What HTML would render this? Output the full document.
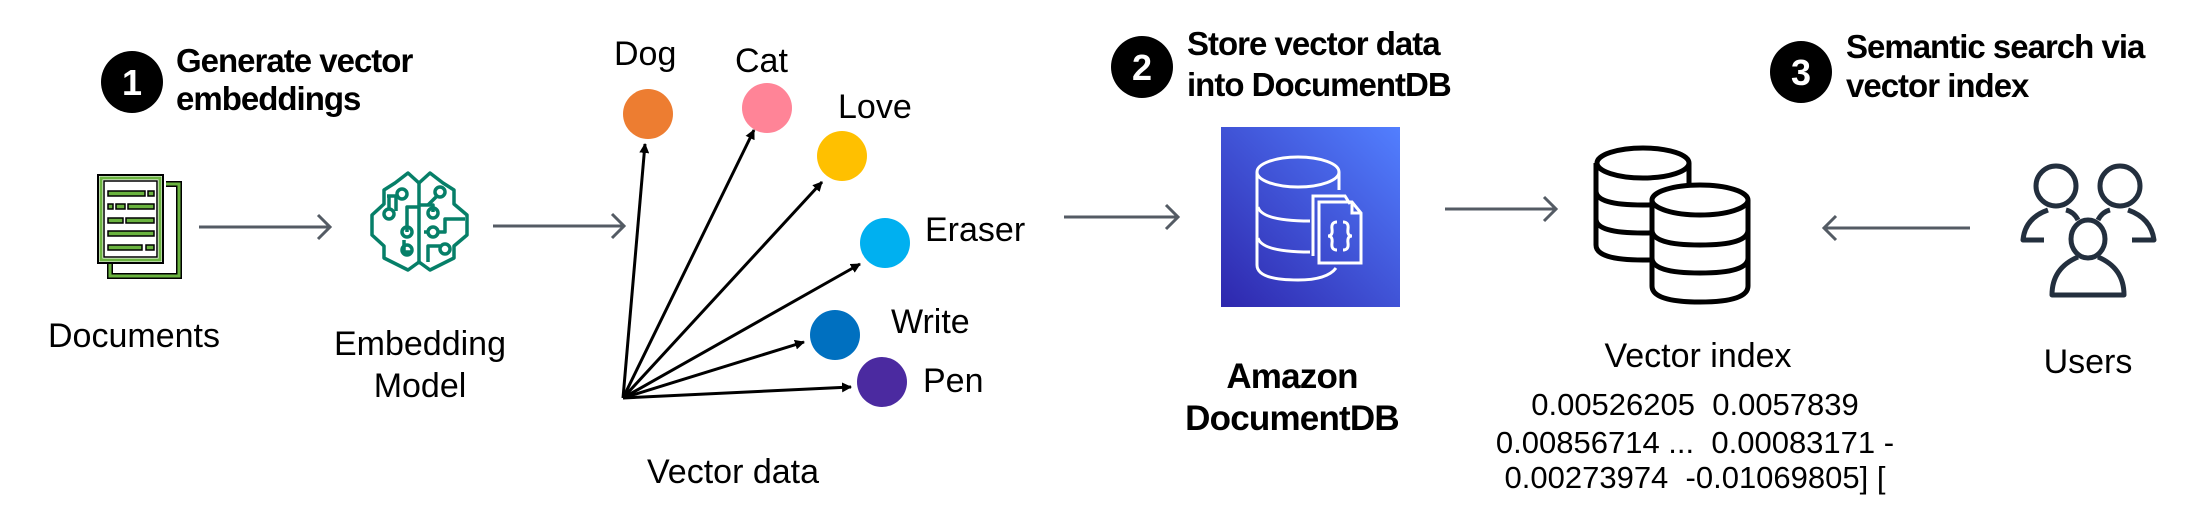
<!DOCTYPE html>
<html><head><meta charset="utf-8"><style>
html,body{margin:0;padding:0;background:#fff;}
svg{display:block;}
text{font-family:"Liberation Sans",sans-serif;}
.b{font-weight:bold;font-size:33px;letter-spacing:-1px;}
.l{font-size:34px;}
.n{font-size:31px;}
</style></head><body>
<svg width="2190" height="520" viewBox="0 0 2190 520" xmlns="http://www.w3.org/2000/svg">
<defs>
<marker id="ah" markerWidth="10" markerHeight="10" refX="9" refY="5" orient="auto" markerUnits="userSpaceOnUse" viewBox="0 0 10 10">
<path d="M0,0 L10,5 L0,10 z" fill="#000"/></marker>
<linearGradient id="g" x1="0" y1="1" x2="1" y2="0">
<stop offset="0" stop-color="#2e27ad"/><stop offset="1" stop-color="#527fff"/></linearGradient>
</defs>

<circle cx="132" cy="82" r="31" fill="#000"/>
<text x="132" y="95" text-anchor="middle" fill="#fff" font-weight="bold" font-size="36">1</text>
<text class="b" x="176" y="72">Generate vector</text>
<text class="b" x="176" y="110">embeddings</text>

<circle cx="1142" cy="67" r="31" fill="#000"/>
<text x="1142" y="80" text-anchor="middle" fill="#fff" font-weight="bold" font-size="36">2</text>
<text class="b" x="1187" y="55">Store vector data</text>
<text class="b" x="1187" y="96">into DocumentDB</text>

<circle cx="1801" cy="72" r="31" fill="#000"/>
<text x="1801" y="85" text-anchor="middle" fill="#fff" font-weight="bold" font-size="36">3</text>
<text class="b" x="1846" y="58">Semantic search via</text>
<text class="b" x="1846" y="97">vector index</text>

<g>
<path d="M110,264 V276 H179 V184 H166" fill="none" stroke="#000" stroke-width="6"/>
<path d="M110,264 V276 H179 V184 H166" fill="none" stroke="#6ab33f" stroke-width="3"/>
<rect x="98" y="175" width="65" height="88" fill="#fff" stroke="#000" stroke-width="2"/>
<rect x="101" y="178" width="59" height="82" fill="#fff" stroke="#6ab33f" stroke-width="3"/>
<rect x="104" y="181" width="53" height="76" fill="#fff" stroke="#000" stroke-width="1.5"/>
<g fill="#6ab33f" stroke="#000" stroke-width="1.5">
<rect x="108" y="191" width="37" height="5"/><rect x="148" y="191" width="6" height="5"/>
<rect x="108" y="204" width="5" height="5"/><rect x="116" y="204" width="9" height="5"/><rect x="128" y="204" width="26" height="5"/>
<rect x="108" y="218" width="15" height="5"/><rect x="126" y="218" width="28" height="5"/>
<rect x="108" y="231" width="46" height="5"/>
<rect x="108" y="245" width="34" height="5"/><rect x="146" y="245" width="8" height="5"/>
</g>
</g>
<text class="l" x="48" y="347">Documents</text>

<g stroke="#545b64" stroke-width="3" fill="none">
<path d="M199,227 H329 M318,215 L330,227 L318,239"/>
<path d="M493,226 H623 M612,214 L624,226 L612,238"/>
<path d="M1064,217 H1177 M1166,205 L1178,217 L1166,229"/>
<path d="M1445,209 H1555 M1544,197 L1556,209 L1544,221"/>
<path d="M1970,228 H1825 M1836,216 L1824,228 L1836,240"/>
</g>

<g fill="none" stroke="#067f68" stroke-width="3.5" stroke-linejoin="round">
<path d="M419,183 L408,173 L395,183 L384,190 V204 L372,215 V235 L384,246 V258 L408,270 L419,262 L430,270 L454,258 V246 L467,235 V215 L454,204 V190 L443,183 L430,173 Z"/>
<path d="M419,183 V262"/>
<path d="M387,196 H396 V211"/><circle cx="402" cy="194" r="5"/>
<circle cx="389" cy="214" r="5"/><path d="M389,209 V196"/>
<path d="M419,207 H407 V232"/><circle cx="407" cy="232" r="5"/>
<path d="M404,240 V252 H412"/><circle cx="407" cy="250" r="5"/>
<path d="M419,205 H433 V212"/><circle cx="433" cy="213" r="5"/>
<circle cx="440" cy="192" r="5"/><path d="M437,196 L428,205"/>
<path d="M424,232 H429"/><circle cx="433" cy="232" r="5"/>
<path d="M438,232 H445 V219 H465"/>
<path d="M428,262 V246 H440"/><circle cx="445" cy="249" r="5"/>
</g>
<text class="l" x="420" y="355" text-anchor="middle">Embedding</text>
<text class="l" x="420" y="397" text-anchor="middle">Model</text>

<g stroke="#000" stroke-width="3" marker-end="url(#ah)">
<line x1="623" y1="398" x2="645" y2="144"/>
<line x1="623" y1="398" x2="754" y2="130"/>
<line x1="623" y1="398" x2="822" y2="182"/>
<line x1="623" y1="398" x2="860" y2="264"/>
<line x1="623" y1="398" x2="804" y2="342"/>
<line x1="623" y1="398" x2="851" y2="387"/>
</g>
<circle cx="648" cy="114" r="25" fill="#ed7d31"/>
<circle cx="767" cy="108" r="25" fill="#ff8497"/>
<circle cx="842" cy="156" r="25" fill="#ffc000"/>
<circle cx="885" cy="243" r="25" fill="#00b0f0"/>
<circle cx="835" cy="335" r="25" fill="#0070c0"/>
<circle cx="882" cy="382" r="25" fill="#4b2aa0"/>
<text class="l" x="614" y="65">Dog</text>
<text class="l" x="735" y="72">Cat</text>
<text class="l" x="838" y="118">Love</text>
<text class="l" x="925" y="241">Eraser</text>
<text class="l" x="891" y="333">Write</text>
<text class="l" x="923" y="392">Pen</text>
<text class="l" x="647" y="483">Vector data</text>

<rect x="1221" y="127" width="179" height="180" fill="url(#g)"/>
<g fill="none" stroke="#fff" stroke-width="3">
<ellipse cx="1298" cy="172" rx="41" ry="15"/>
<path d="M1257,172 V265 Q1257,280 1298,280 Q1327,280 1336,268"/>
<path d="M1339,172 V190"/>
<path d="M1258,207 Q1262,221 1310,221"/>
<path d="M1258,238 Q1262,252 1310,252"/>
<path d="M1313,256 V196 H1345 L1350,204"/>
<path d="M1319,263 V202 H1352 L1361,213 V263 Z"/>
<path d="M1352,202 V213 H1361"/>
<path d="M1337,222 Q1331,222 1332,229 Q1333,236 1328,236 Q1333,236 1332,243 Q1331,250 1337,250"/>
<path d="M1343,222 Q1349,222 1348,229 Q1347,236 1352,236 Q1347,236 1348,243 Q1349,250 1343,250"/>
</g>
<text x="1292" y="388" text-anchor="middle" font-weight="bold" font-size="35" letter-spacing="-0.8">Amazon</text>
<text x="1292" y="430" text-anchor="middle" font-weight="bold" font-size="35" letter-spacing="-0.8">DocumentDB</text>

<g fill="#fff" stroke="#000" stroke-width="5">
<path d="M1596,163 V245 Q1596,260 1643,260 Q1689,260 1689,245 V163"/>
<path d="M1596,191 Q1596,205 1643,205 Q1689,205 1689,191"/>
<path d="M1596,219 Q1596,233 1643,233 Q1689,233 1689,219"/>
<ellipse cx="1643" cy="163" rx="46" ry="15"/>
<path d="M1652,200 V286 Q1652,302 1700,302 Q1748,302 1748,286 V200"/>
<path d="M1652,230 Q1652,245 1700,245 Q1748,245 1748,230"/>
<path d="M1652,258 Q1652,273 1700,273 Q1748,273 1748,258"/>
<ellipse cx="1700" cy="200" rx="48" ry="15"/>
</g>
<text class="l" x="1698" y="367" text-anchor="middle">Vector index</text>
<text class="n" x="1695" y="415" text-anchor="middle" xml:space="preserve">0.00526205  0.0057839</text>
<text class="n" x="1695" y="453" text-anchor="middle" xml:space="preserve">0.00856714 ...  0.00083171 -</text>
<text class="n" x="1695" y="488" text-anchor="middle" xml:space="preserve">0.00273974  -0.01069805] [</text>

<g fill="none" stroke="#232f3e" stroke-width="5" stroke-linejoin="round">
<circle cx="2056" cy="186" r="20"/>
<path d="M2048,210 Q2025,218 2023,240 H2044"/>
<circle cx="2120" cy="186" r="20"/>
<path d="M2128,210 Q2151,218 2154,240 H2132"/>
<path d="M2066,210 Q2074,212 2078,220"/><path d="M2110,210 Q2102,212 2098,220"/>
<ellipse cx="2088" cy="239" rx="17" ry="19"/>
<path d="M2078,257 Q2052,268 2052,295 H2124 Q2124,268 2098,257"/>
</g>
<text class="l" x="2088" y="373" text-anchor="middle">Users</text>
</svg>
</body></html>
